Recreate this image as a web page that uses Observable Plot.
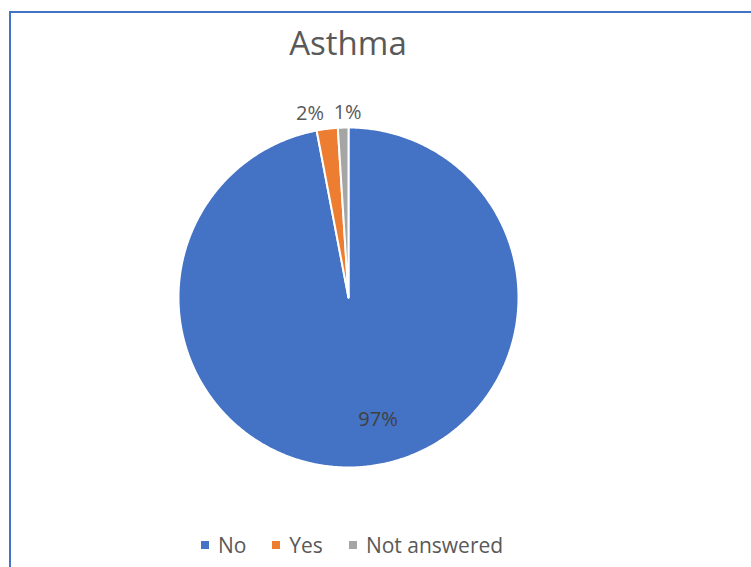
<!DOCTYPE html>
<html>
<head>
<meta charset="utf-8">
<script src="https://cdn.jsdelivr.net/npm/d3@7"></script>
<script src="https://cdn.jsdelivr.net/npm/@observablehq/plot@0.6"></script>
<style>
  html, body { margin: 0; padding: 0; background: #fff; }
  #wrap { position: relative; width: 751px; height: 567px; overflow: hidden; font-family: "Open Sans", sans-serif; color: #595959; }
  #frame { position: absolute; left: 9px; top: 11px; width: 800px; height: 620px; border: 2px solid #4472C4; box-sizing: border-box; }
  #title { position: absolute; left: 0; top: 27px; width: 696px; text-align: center; font-size: 33px; line-height: 32px; }
  #chart { position: absolute; left: 0; top: 76px; }
  #legend { position: absolute; left: 0; top: 530px; width: 704px; display: flex; justify-content: center; gap: 26px; font-size: 21px; line-height: 30px; }
  .item { display: flex; align-items: center; gap: 9px; }
  .sw { width: 8px; height: 8px; display: inline-block; }
</style>
</head>
<body>
<div id="wrap">
  <div id="frame"></div>
  <div id="title"></div>
  <div id="chart"></div>
  <div id="legend"></div>
</div>
<script>
const title = "Asthma";
const categories = ["No", "Yes", "Not answered"];
const values = [97, 2, 1];
const colors = ["#4472C4", "#ED7D31", "#A5A5A5"];
const labels = ["97%", "2%", "1%"];

document.getElementById("title").textContent = title;

const arcs = d3.pie().sort(null)(values);
const pts = [];
arcs.forEach((a, i) => {
  const cat = categories[i];
  pts.push({cat, x: 0, y: 0});
  const n = Math.max(4, Math.ceil((a.endAngle - a.startAngle) / (Math.PI / 360)));
  for (let k = 0; k <= n; k++) {
    const t = a.startAngle + (a.endAngle - a.startAngle) * k / n;
    pts.push({cat, x: Math.sin(t), y: -Math.cos(t)});
  }
  pts.push({cat, x: 0, y: 0});
});

const lab = arcs.map((a, i) => {
  const m = (a.startAngle + a.endAngle) / 2;
  const f = i === 0 ? 0.72 : 1.1;
  return {label: labels[i], x: f * Math.sin(m), y: -f * Math.cos(m)};
});

const cx = 348, cy = 221, r = 170;
const chart = Plot.plot({
  width: 751,
  height: 440,
  margin: 0,
  x: {domain: [-1, 1], range: [cx - r, cx + r], axis: null},
  y: {domain: [-1, 1], range: [cy - r, cy + r], axis: null},
  color: {domain: categories, range: colors},
  style: {fontFamily: "Open Sans, sans-serif", background: "transparent"},
  marks: [
    Plot.line(pts, {x: "x", y: "y", z: "cat", fill: "cat", stroke: "white", strokeWidth: 2, strokeLinejoin: "round"}),
    Plot.text(lab.slice(0, 1), {x: "x", y: "y", text: "label", fill: "#404040", fontSize: 20, dx: 18}),
    Plot.text(lab.slice(1, 2), {x: "x", y: "y", text: "label", fill: "#595959", fontSize: 20, textAnchor: "end", dx: -1, dy: 2}),
    Plot.text(lab.slice(2, 3), {x: "x", y: "y", text: "label", fill: "#595959", fontSize: 20, textAnchor: "start", dx: -9, dy: 2})
  ]
});
document.getElementById("chart").appendChild(chart);

const legend = document.getElementById("legend");
categories.forEach((c, i) => {
  const it = document.createElement("div");
  it.className = "item";
  const sw = document.createElement("span");
  sw.className = "sw";
  sw.style.background = colors[i];
  const tx = document.createElement("span");
  tx.textContent = c;
  it.appendChild(sw);
  it.appendChild(tx);
  legend.appendChild(it);
});
</script>
</body>
</html>
